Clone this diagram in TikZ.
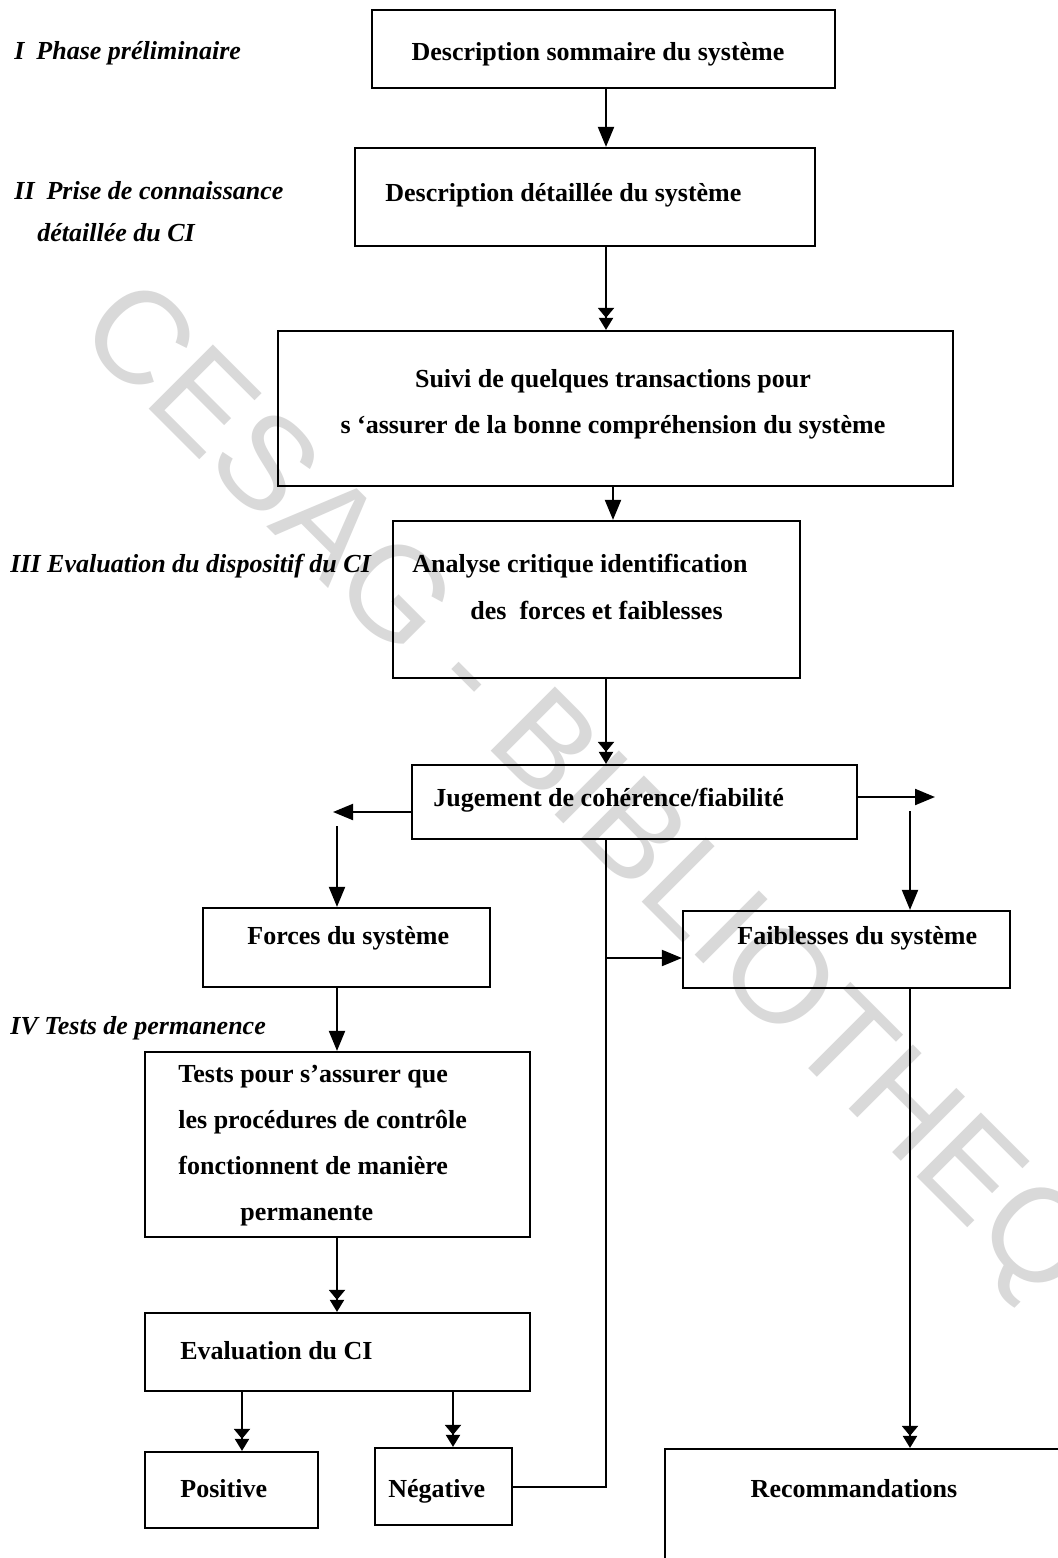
\documentclass[tikz,border=0pt]{standalone}
\usepackage{fontspec}
\setmainfont{Liberation Serif}
\newfontfamily\wmfont{Liberation Sans}
\usetikzlibrary{arrows.meta,fit,calc}

\begin{document}
\begin{tikzpicture}[x=0.5pt,y=-0.5pt,
  box/.style={draw, line width=1.1pt, inner sep=0pt},
  txt/.style={font=\bfseries\fontsize{13}{15}\selectfont, inner sep=0pt, anchor=base west},
  ctxt/.style={txt, anchor=base},
  lab/.style={font=\bfseries\itshape\fontsize{13}{15}\selectfont, inner sep=0pt, anchor=base west},
  conn/.style={line width=1pt},
  arr/.style={conn, -{Triangle[width=8pt,length=10pt]}},
  dbl/.style={conn, -{Triangle[width=8pt,length=5pt]Triangle[width=7pt,length=6pt]}}
]
\useasboundingbox (0,0) rectangle (1058,1558);
\clip (0,0) rectangle (1058,1558);
\fill[white] (0,0) rectangle (1058,1558);

% watermark
\node[font=\wmfont\fontsize{66}{66}\selectfont, text=black!15, rotate=-45,
      anchor=base west, inner sep=0pt] (wm) at (74,334) {CESAG - BIBLIOTHEQUE};

% phase labels
\node[lab] (l1) at (14,59) {I\hspace{6pt}Phase préliminaire};
\node[lab] (l2a) at (14,199) {II\hspace{6pt}Prise de connaissance};
\node[lab] (l2b) at (37,241) {détaillée du CI};
\node[lab] (l3) at (10,572) {III Evaluation du dispositif du CI};
\node[lab] (l4) at (10,1034) {IV Tests de permanence};

% boxes
\node[box, fit={(372,10)(835,88)}] (b1) {};
\node[box, fit={(355,148)(815,246)}] (b2) {};
\node[box, fit={(278,331)(953,486)}] (b3) {};
\node[box, fit={(393,521)(800,678)}] (b4) {};
\node[box, fit={(412,765)(857,839)}] (b5) {};
\node[box, fit={(203,908)(490,987)}] (forces) {};
\node[box, fit={(683,911)(1010,988)}] (faib) {};
\node[box, fit={(145,1052)(530,1237)}] (tests) {};
\node[box, fit={(145,1313)(530,1391)}] (evalci) {};
\node[box, fit={(145,1452)(318,1528)}] (pos) {};
\node[box, fit={(375,1448)(512,1525)}] (neg) {};
\node[box, fit={(665,1449)(1080,1610)}] (reco) {};

% box texts
\node[ctxt] (t1) at (598,61) {Description sommaire du système};
\node[txt] (t2) at (385,201) {Description détaillée du système};
\node[ctxt] (t3a) at (613,387) {Suivi de quelques transactions pour};
\node[ctxt] (t3b) at (613,433) {s ‘assurer de la bonne compréhension du système};
\node[txt] (t4a) at (412,572) {Analyse critique identification};
\node[txt] (t4b) at (470,619) {des\enspace forces et faiblesses};
\node[txt] (t5) at (433,806) {Jugement de cohérence/fiabilité};
\node[txt] (t6) at (247,944) {Forces du système};
\node[txt] (t7) at (737,944) {Faiblesses du système};
\node[txt] (t8a) at (178,1082) {Tests pour s’assurer que};
\node[txt] (t8b) at (178,1128) {les procédures de contrôle};
\node[txt] (t8c) at (178,1174) {fonctionnent de manière};
\node[txt] (t8d) at (240,1220) {permanente};
\node[txt] (t9) at (180,1359) {Evaluation du CI};
\node[txt] (t10) at (180,1497) {Positive};
\node[txt] (t11) at (388,1497) {Négative};
\node[ctxt] (t12) at (854,1497) {Recommandations};

% connector columns and bends
\coordinate (sp) at (606,0);
\coordinate (sp2) at (613,0);
\coordinate (ltip) at (333,812);
\coordinate (ljoin) at (337,826);
\coordinate (rtip) at (935,797);
\coordinate (rjoin) at (910,811);
\coordinate (branch) at (606,958);
\coordinate (posx) at (242,0);
\coordinate (negx) at (453,0);

% connectors
\draw[arr] (b1.south -| sp) -- (b2.north -| sp);
\draw[dbl] (b2.south -| sp) -- (b3.north -| sp);
\draw[arr] (b3.south -| sp2) -- (b4.north -| sp2);
\draw[dbl] (b4.south -| sp) -- (b5.north -| sp);
\draw[arr] (b5.west |- ltip) -- (ltip);
\draw[arr] (ljoin) -- (ljoin |- forces.north);
\draw[arr] (b5.east |- rtip) -- (rtip);
\draw[arr] (rjoin) -- (rjoin |- faib.north);
\draw[conn] (b5.south -| sp) |- (neg.east);
\draw[arr] (branch) -- (branch -| faib.west);
\draw[arr] (forces.south -| ljoin) -- (tests.north -| ljoin);
\draw[dbl] (tests.south -| ljoin) -- (evalci.north -| ljoin);
\draw[dbl] (evalci.south -| posx) -- (pos.north -| posx);
\draw[dbl] (evalci.south -| negx) -- (neg.north -| negx);
\draw[dbl] (faib.south -| rjoin) -- (reco.north -| rjoin);
\end{tikzpicture}
\end{document}
